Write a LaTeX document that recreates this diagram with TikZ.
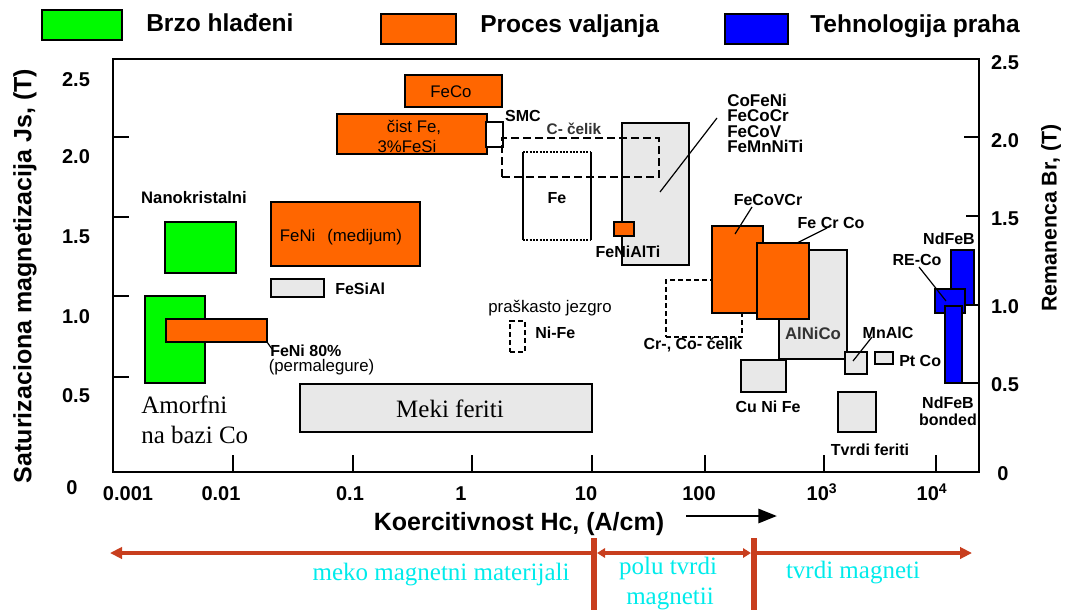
\documentclass[tikz,border=0pt]{standalone}
\usepackage{fontspec}
\setmainfont{Liberation Sans}
\newfontfamily\serifface{Liberation Serif}
\usetikzlibrary{fit,arrows.meta}

\definecolor{quench}{RGB}{0,250,0}
\definecolor{rolledc}{RGB}{255,102,0}
\definecolor{powder}{RGB}{0,0,255}
\definecolor{greyfill}{RGB}{232,232,232}
\definecolor{zone}{RGB}{200,62,30}
\definecolor{zonetext}{RGB}{0,235,235}

\newcommand\fsLegend{\fontsize{18.4}{22}\selectfont\bfseries}
\newcommand\fsTitle{\fontsize{18.75}{22}\selectfont\bfseries}
\newcommand\fsTick{\fontsize{15}{18}\selectfont\bfseries}
\newcommand\fsLab{\fontsize{12}{13}\selectfont\bfseries}
\newcommand\fsBig{\fontsize{12.75}{11.7}\selectfont\bfseries}
\newcommand\fsReg{\fontsize{12.6}{14}\selectfont}
\newcommand\fsSerif{\fontsize{18.75}{22}\selectfont\serifface}

% rectangle node spanning two corners
\newcommand\plotrect[6]{\node[#1, fit={(#3,#4) (#5,#6)}] (#2) {};}

\begin{document}
\begin{tikzpicture}[x=0.75pt,y=-0.75pt,
  box/.style={draw, line width=1.1pt, inner sep=0pt, outer sep=0pt},
  quenched/.style={box, fill=quench},
  rolled/.style={box, fill=rolledc},
  pressed/.style={box, fill=powder},
  otherbox/.style={box, fill=greyfill},
  whitebox/.style={box, fill=white},
  dashbox/.style={box, line width=1.5pt, dash pattern=on 6pt off 3pt},
  finedash/.style={box, line width=1.1pt, dash pattern=on 4pt off 2pt},
  legtext/.style={font=\fsLegend, inner sep=0pt, anchor=base west},
  title/.style={font=\fsTitle, inner sep=0pt},
  ticklab/.style={font=\fsTick, inner sep=0pt},
  lab/.style={font=\fsLab, inner sep=0pt},
  reg/.style={font=\fsReg, inner sep=0pt},
  serif/.style={font=\fsSerif, inner sep=0pt},
  zonelab/.style={font=\fsSerif, text=zonetext, inner sep=0pt, anchor=base},
  tickline/.style={line width=1.1pt},
  lead/.style={line width=0.9pt},
  zoneline/.style={draw=zone, line width=3pt},
  zonebar/.style={draw=zone, line width=3.8pt}
]
\useasboundingbox (0,0) rectangle (1066,610);

% ---------- legend ----------
\plotrect{quenched}{leg-q}{42}{10}{122}{40}
\node[legtext] (leg-q-t) at (146,32) {Brzo hlađeni};
\plotrect{rolled}{leg-r}{381}{14}{456}{44}
\node[legtext] (leg-r-t) at (480,32.5) {Proces valjanja};
\plotrect{pressed}{leg-p}{725}{14}{788}{44}
\node[legtext] (leg-p-t) at (810,33) {Tehnologija praha};

% ---------- frame and ticks ----------
\node[draw, line width=1.4pt, inner sep=0pt, fit={(113,59) (979,472)}] (frame) {};
\foreach \ty [count=\i] in {137,217,296,377}{
  \coordinate (ytl\i) at (113,\ty); \coordinate (ytr\i) at (129,\ty);
  \draw[tickline] (ytl\i) -- (ytr\i);
}
\foreach \tx [count=\i] in {233,353,472,592,705,824,936}{
  \coordinate (xtb\i) at (\tx,472); \coordinate (xtt\i) at (\tx,455);
  \draw[tickline] (xtb\i) -- (xtt\i);
}
\foreach \ty/\tx [count=\i] in {137/964,216/966,305/964,383/962}{
  \coordinate (rtl\i) at (\tx,\ty); \coordinate (rtr\i) at (979,\ty);
  \draw[tickline] (rtl\i) -- (rtr\i);
}

% left scale
\node[ticklab] (yl25) at (76,80) {2.5};
\node[ticklab] (yl20) at (76,157) {2.0};
\node[ticklab] (yl15) at (76,237) {1.5};
\node[ticklab] (yl10) at (76,317) {1.0};
\node[ticklab] (yl05) at (76,396) {0.5};
\node[ticklab] (yl00) at (72,488) {0};
% right scale
\node[ticklab] (yr25) at (1005,63) {2.5};
\node[ticklab] (yr20) at (1005,141) {2.0};
\node[ticklab] (yr15) at (1005,219) {1.5};
\node[ticklab] (yr10) at (1005,307) {1.0};
\node[ticklab] (yr05) at (1005,385) {0.5};
\node[ticklab] (yr00) at (1003,474) {0};
% bottom scale
\node[ticklab, anchor=base] (xl1) at (128,500) {0.001};
\node[ticklab, anchor=base] (xl2) at (221,500) {0.01};
\node[ticklab, anchor=base] (xl3) at (350,500) {0.1};
\node[ticklab, anchor=base] (xl4) at (461,500) {1};
\node[ticklab, anchor=base] (xl5) at (586,500) {10};
\node[ticklab, anchor=base] (xl6) at (699,500) {100};
\node[ticklab, anchor=base] (xl7) at (822,500) {10\textsuperscript{3}};
\node[ticklab, anchor=base] (xl8) at (932,500) {10\textsuperscript{4}};

% axis titles
\node[title, rotate=90] (ytitle) at (25,276) {Saturizaciona magnetizacija Js, (T)};
\node[title, font=\fontsize{16}{19}\selectfont\bfseries, rotate=90] (rtitle) at (1051,218) {Remanenca Br, (T)};
\node[title, anchor=base] (xtitle) at (519,530) {Koercitivnost Hc, (A/cm)};
\coordinate (xa1) at (686,516); \coordinate (xa2) at (777,516);
\draw[line width=2.2pt, -{Triangle[length=14pt,width=10.5pt]}] (xa1) -- (xa2);

% ---------- grey regions (other processes) ----------
\plotrect{otherbox}{fesial}{271}{279}{324}{297}
\plotrect{otherbox}{meki}{300}{384}{592}{432}
\plotrect{otherbox}{cofeni}{622}{123}{689}{265}
\plotrect{otherbox}{alnico}{779}{250}{847}{359}
\plotrect{otherbox}{cunife}{741}{360}{786}{392}
\plotrect{otherbox}{mnalc}{845}{352}{867}{374}
\plotrect{otherbox}{ptco}{875}{352}{893}{364}
\plotrect{otherbox}{tvrdi}{838}{392}{876}{432}

% ---------- rapidly quenched ----------
\plotrect{quenched}{nano}{165}{222}{236}{273}
\plotrect{quenched}{amorf}{145}{296}{205}{383}

% ---------- rolled ----------
\plotrect{rolled}{feni80}{166}{319}{267}{342}
\plotrect{rolled}{fenimed}{271}{202}{420}{266}
\plotrect{rolled}{feco}{405}{75}{502}{107}
\plotrect{rolled}{cistfe}{337}{114}{487}{154}
\plotrect{whitebox}{smc}{486}{122}{503}{147}
\plotrect{rolled}{fenialti}{614}{222}{634}{236}

% dashed regions
\plotrect{dashbox}{celik}{502}{138}{659}{177}
\plotrect{finedash}{crco}{666}{280}{742}{337}
\plotrect{finedash}{nife}{510}{321}{525}{352}

% Fe box: solid sides, dotted top and bottom
\coordinate (fe-a) at (523,152); \coordinate (fe-b) at (591,152);
\coordinate (fe-c) at (591,240); \coordinate (fe-d) at (523,240);
\draw[line width=1.1pt] (fe-a) -- (fe-d);
\draw[line width=1.1pt] (fe-b) -- (fe-c);
\draw[line width=1.1pt, dash pattern=on 1.5pt off 1pt] (fe-a) -- (fe-b);
\draw[line width=1.1pt, dash pattern=on 1.5pt off 1pt] (fe-d) -- (fe-c);

\plotrect{rolled}{fecovcr}{712}{226}{763}{313}
\plotrect{rolled}{fecrco}{757}{243}{809}{319}

% ---------- powder technology ----------
\plotrect{pressed}{ndfeb}{951}{250}{974}{305}
\plotrect{pressed}{reco}{935}{289}{965}{313}
\plotrect{pressed}{bonded}{945}{306}{962}{383}

% ---------- labels ----------
\node[lab, font=\fontsize{12.5}{13}\selectfont\bfseries] (t-nano) at (194,198) {Nanokristalni};
\node[serif, anchor=base west] (t-amorf1) at (141,413) {Amorfni};
\node[serif, anchor=base west] (t-amorf2) at (141,443) {na bazi Co};
\node[lab, anchor=west] (t-feni80) at (270,351) {FeNi 80\%};
\node[reg, anchor=west] (t-perm) at (268.5,367) {(permalegure)};
\coordinate (l-feni80) at (272,349);
\draw[lead] (feni80.south east) -- (l-feni80);
\node[reg] (t-fenimed) at (341,237) {FeNi\hspace{9pt}(medijum)};
\node[lab, anchor=west] (t-fesial) at (335,289) {FeSiAl};
\node[serif, anchor=base] (t-meki) at (450,417) {Meki feriti};
\node[reg] (t-feco) at (451,92) {FeCo};
\node[reg] (t-cist1) at (414,127) {čist Fe,};
\node[reg] (t-cist2) at (407,146) {3\%FeSi};
\node[lab] (t-smc) at (523,116) {SMC};
\node[lab, font=\fontsize{11.5}{13}\selectfont\bfseries, text=black!80] (t-celik) at (574,129) {C- čelik};
\node[lab] (t-fe) at (557,198) {Fe};
\node[font=\fsBig, inner sep=0pt, anchor=west, align=left] (t-cofeni) at (727,123.5) {CoFeNi\\FeCoCr\\FeCoV\\FeMnNiTi};
\coordinate (p-cofeni) at (660,192); \coordinate (q-cofeni) at (717,118);
\draw[lead] (p-cofeni) -- (q-cofeni);
\node[lab] (t-fenialti) at (628,252) {FeNiAlTi};
\node[reg, anchor=base] (t-prah) at (550,312) {praškasto jezgro};
\node[lab, anchor=west] (t-nife) at (535,333) {Ni-Fe};
\node[lab] (t-crco) at (693,345) {Cr-, Co- čelik};
\node[lab] (t-fecovcr) at (768,200) {FeCoVCr};
\coordinate (p-fecovcr) at (735,234); \coordinate (q-fecovcr) at (752,207);
\draw[lead] (p-fecovcr) -- (q-fecovcr);
\node[lab] (t-fecrco) at (831,223) {Fe Cr Co};
\coordinate (q-fecrco) at (827,228);
\draw[lead] (fecrco.north east) ++(-9pt,0) coordinate (p-fecrco) -- (q-fecrco);
\node[reg, font=\fsReg\bfseries, text=black!80] (t-alnico) at (813,333) {AlNiCo};
\node[lab] (t-cunife) at (768,407) {Cu Ni Fe};
\node[lab] (t-mnalc) at (888,333) {MnAlC};
\coordinate (p-mnalc) at (853,361); \coordinate (q-mnalc) at (872,337);
\draw[lead] (p-mnalc) -- (q-mnalc);
\node[lab, anchor=west] (t-ptco) at (899,361) {Pt Co};
\node[lab] (t-tvrdi) at (870,450) {Tvrdi feriti};
\node[lab] (t-ndfeb) at (949,239) {NdFeB};
\node[lab] (t-reco) at (917,260) {RE-Co};
\coordinate (p-reco) at (946,301); \coordinate (q-reco) at (919,267);
\draw[lead] (q-reco) -- (p-reco);
\node[lab, align=center] (t-bonded) at (948,411) {NdFeB\\bonded};

% ---------- coercivity zones ----------
\coordinate (z-left) at (110,553); \coordinate (z-b1) at (594,553);
\coordinate (z-b2) at (754,553); \coordinate (z-right) at (972,553);
\coordinate (z-m1) at (597,553); \coordinate (z-m2) at (751,553);
\coordinate (z-l0) at (591,553); \coordinate (z-r0) at (757,553);
\draw[zoneline, -{Triangle[length=9pt,width=8.5pt]}] (z-l0) -- (z-left);
\draw[zoneline, {Triangle[length=6pt,width=7pt]}-{Triangle[length=6pt,width=7pt]}] (z-m1) -- (z-m2);
\draw[zoneline, -{Triangle[length=9pt,width=8.5pt]}] (z-r0) -- (z-right);
\coordinate (bar1t) at (594,538); \coordinate (bar1b) at (594,610);
\coordinate (bar2t) at (754,538); \coordinate (bar2b) at (754,610);
\draw[zonebar] (bar1t) -- (bar1b);
\draw[zonebar] (bar2t) -- (bar2b);
\node[zonelab] (z-soft) at (441,580) {meko magnetni materijali};
\node[zonelab] (z-semi1) at (668,574) {polu tvrdi};
\node[zonelab] (z-semi2) at (670,604) {magnetii};
\node[zonelab] (z-hard) at (853,578) {tvrdi magneti};
\end{tikzpicture}
\end{document}
